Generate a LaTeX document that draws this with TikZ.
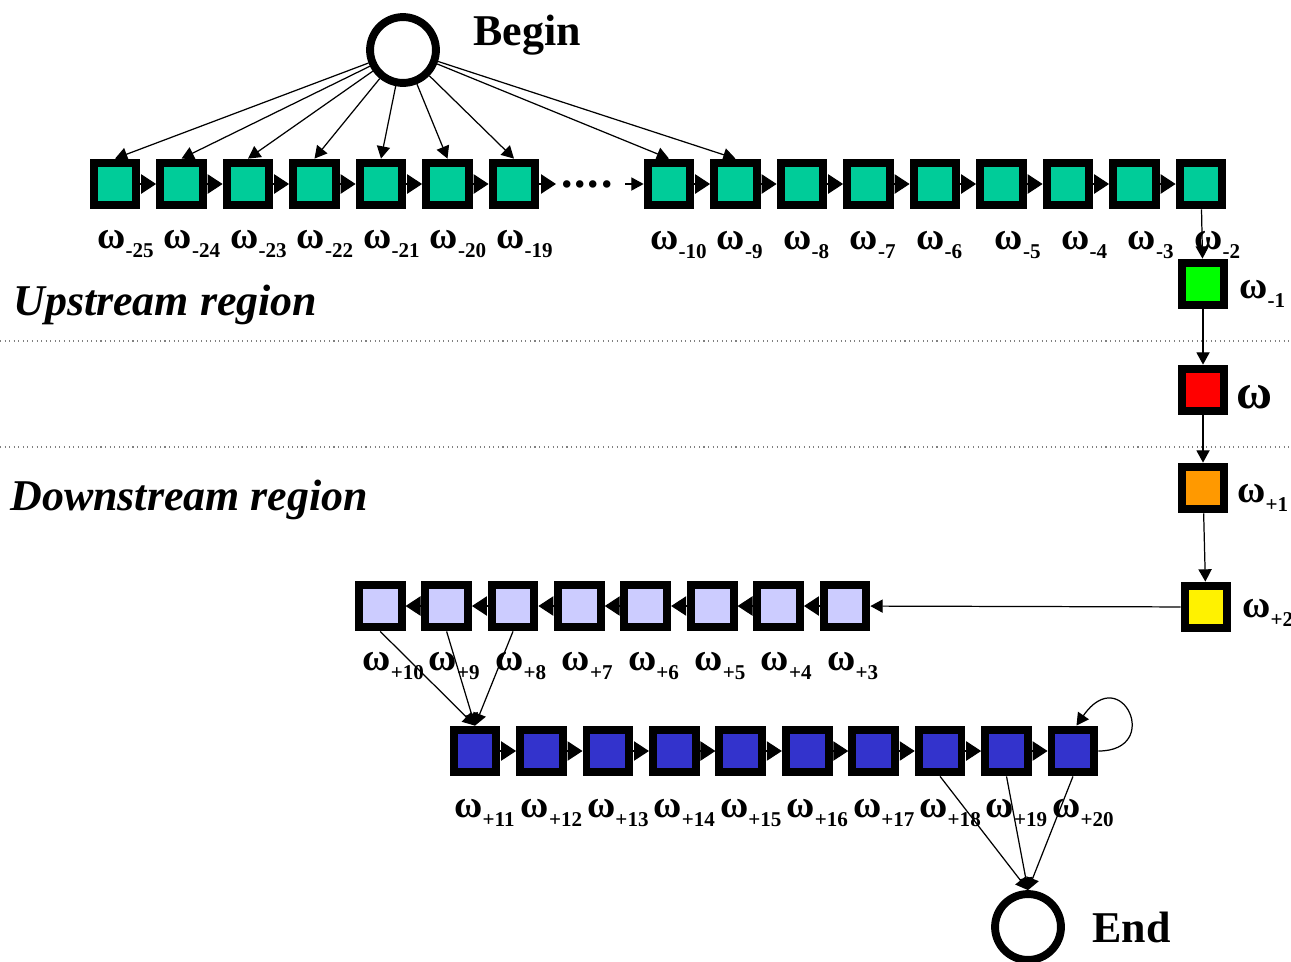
\documentclass[tikz,border=0pt]{standalone}
\usepackage{fontspec}
\setmainfont{Liberation Serif}
\usetikzlibrary{arrows.meta}
\definecolor{upcol}{RGB}{0,204,153}
\definecolor{lastcol}{RGB}{0,255,0}
\definecolor{nextcol}{RGB}{255,153,0}
\definecolor{lowcol}{RGB}{204,204,255}
\definecolor{deepcol}{RGB}{51,51,204}
\newcommand{\wsub}[1]{ω\raisebox{-5.5pt}{\fontsize{12}{12}\selectfont #1}}

\begin{document}
\begin{tikzpicture}[x=0.02cm,y=-0.02cm,
    sq/.style={draw=black,line width=4.5pt,minimum size=24.4pt,inner sep=0pt},
    term/.style={circle,draw=black,line width=4.5pt,minimum size=37.5pt,inner sep=0pt},
    lab/.style={anchor=base west,inner sep=0pt,font=\fontsize{22}{22}\selectfont\bfseries},
    big/.style={anchor=base west,inner sep=0pt,font=\fontsize{25}{25}\selectfont\bfseries},
    region/.style={anchor=base west,inner sep=0pt,font=\fontsize{25}{25}\selectfont\bfseries\itshape},
    chain/.style={-{Triangle[length=8.5pt,width=11pt]},line width=0.6pt},
    arr/.style={-{Triangle[length=7pt,width=7.5pt]},line width=0.7pt}]
    \useasboundingbox (0,0) rectangle (1291,961);
    \draw[gray,dotted,line width=0.6pt] (0,341) -- (1291,341);
    \draw[gray,dotted,line width=0.6pt] (0,447) -- (1291,447);
    \node[region] (up) at (13,315) {Upstream region};
    \node[region] (down) at (10,510) {Downstream region};
    \node[term] (begin) at (403,50) {};
    \node[big] (beginlab) at (473,45) {Begin};
    \foreach \i [count=\k from 0] in {25,24,...,19} {
      \node[sq,fill=upcol] (m\i) at ({115+66.5*\k},184) {};
      \node[lab] (lm\i) at ({97+66.5*\k},248) {\wsub{-\i}};
    }
    \foreach \i [count=\k from 0] in {10,9,...,2} {
      \pgfmathtruncatemacro\off{ifthenelse(\i>5,7,19)}
      \node[sq,fill=upcol] (m\i) at ({669+66.5*\k},184) {};
      \node[lab] (lm\i) at ({643+66.5*\k+\off},249) {\wsub{-\i}};
    }
    \node[sq,fill=lastcol] (m1) at (1203,284) {};
    \node[lab] (lm1) at (1239,298) {\wsub{-1}};
    \node[sq,fill=red] (w0) at (1203,390) {};
    \node[lab,font=\fontsize{28}{28}\selectfont\bfseries] (lw0) at (1236,408) {ω};
    \node[sq,fill=nextcol] (p1) at (1203,488) {};
    \node[lab] (lp1) at (1237,502) {\wsub{+1}};
    \node[sq,fill=yellow] (p2) at (1206,607) {};
    \node[lab] (lp2) at (1242,617) {\wsub{+2}};
    \foreach \i [count=\k from 0] in {3,...,10} {
      \node[sq,fill=lowcol] (p\i) at ({845-66.4*\k},606) {};
      \node[lab] (lp\i) at ({827-66.4*\k},670) {\wsub{+\i}};
    }
    \foreach \i [count=\k from 0] in {11,...,20} {
      \node[sq,fill=deepcol] (p\i) at ({475+66.44*\k},751) {};
      \node[lab] (lp\i) at ({454+66.44*\k},817) {\wsub{+\i}};
    }
    \node[term] (end) at (1028,927) {};
    \node[big] (endlab) at (1092,942) {End};
    \foreach \i in {25,24,...,19,10,9}
      \draw[arr] (begin) -- (m\i.north);
    \foreach \i in {25,24,...,20,10,9,...,3} {
      \pgfmathtruncatemacro\j{\i-1}
      \draw[chain] (m\i.east) -- (m\j.west);
    }
    \coordinate (gapl) at (556,184);
    \coordinate (gapr) at (625,184);
    \draw[chain] (m19.east) -- (gapl);
    \node[font=\fontsize{26}{26}\selectfont\bfseries] (dots) at (587,184) {.\kern1pt.\kern1pt.\kern1pt.};
    \draw[arr] (gapr) -- (m10.west);
    \draw[arr] (m2) -- (m1);
    \draw[arr] (m1) -- (w0);
    \draw[arr] (w0) -- (p1);
    \draw[arr] (p1) -- (p2);
    \draw[arr] (p2) -- (p3);
    \foreach \i in {3,...,9} {
      \pgfmathtruncatemacro\j{\i+1}
      \draw[chain] (p\i.west) -- (p\j.east);
    }
    \foreach \i in {10,9,8}
      \draw[arr] (p\i.south) -- (p11.north);
    \foreach \i in {11,...,19} {
      \pgfmathtruncatemacro\j{\i+1}
      \draw[chain] (p\i.east) -- (p\j.west);
    }
    \draw[arr] (p20.east) .. controls +(65,0) and +(45,-65) .. ([xshift=2pt]p20.north);
    \foreach \i in {18,19,20}
      \draw[arr] (p\i.south) -- (end.north);
\end{tikzpicture}
\end{document}
